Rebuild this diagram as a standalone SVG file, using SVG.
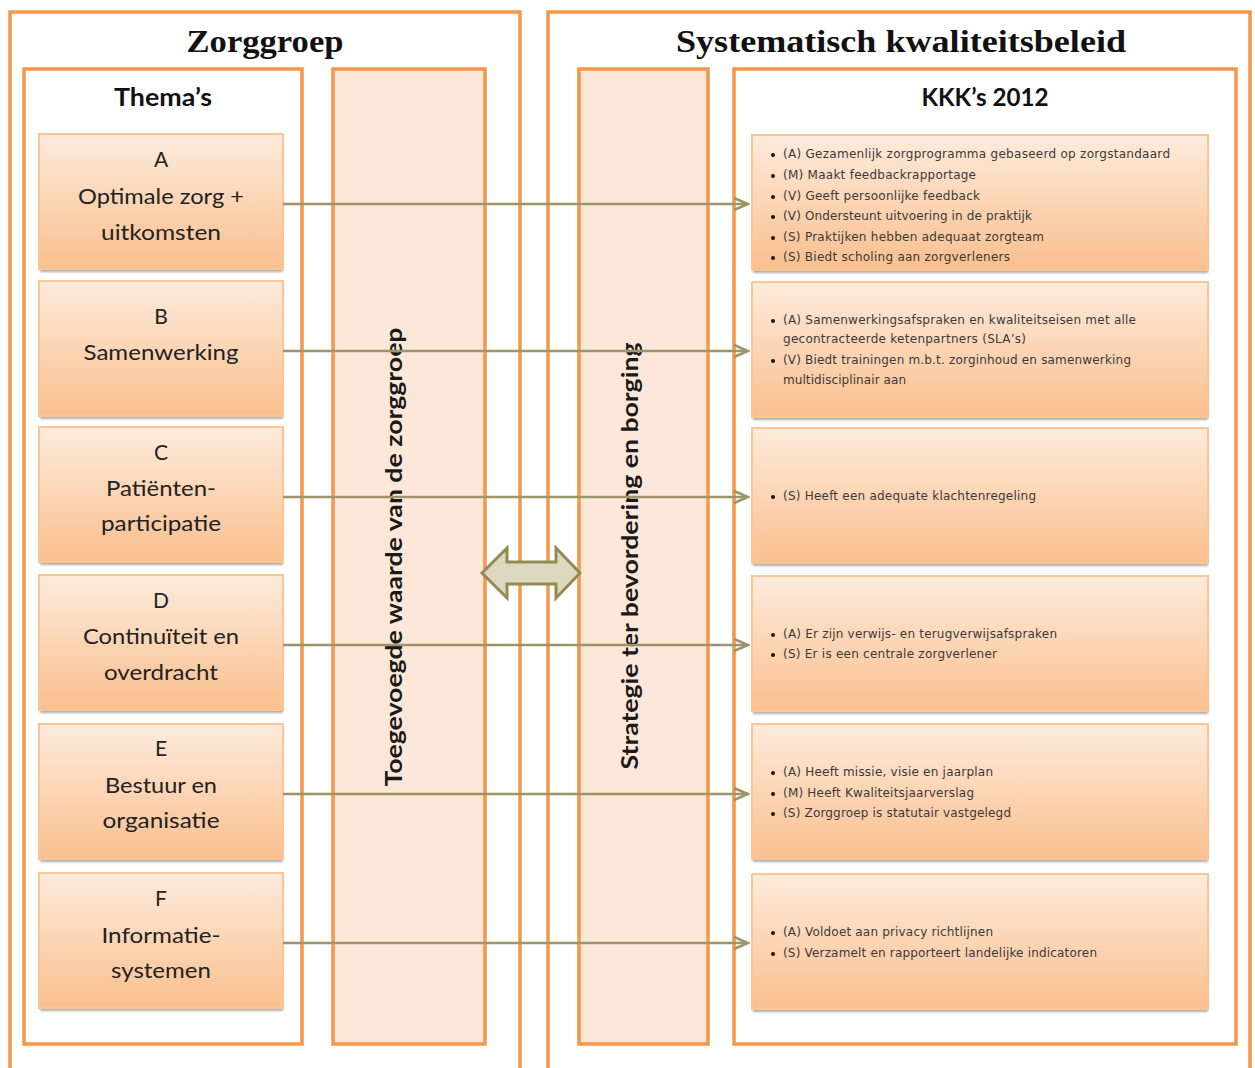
<svg xmlns="http://www.w3.org/2000/svg" width="1255" height="1068" viewBox="0 0 1255 1068">
<defs>
<linearGradient id="gTheme" x1="0" y1="0" x2="0" y2="1">
<stop offset="0" stop-color="#FDEBDC"/>
<stop offset="1" stop-color="#FABF8E"/>
</linearGradient>
<marker id="chev" markerUnits="userSpaceOnUse" markerWidth="18" markerHeight="16" viewBox="0 0 18 16" refX="16" refY="8" orient="auto">
<path d="M2,2 L16,8 L2,14" fill="none" stroke="#9B9569" stroke-width="2.5"/>
</marker>
<filter id="soft" x="-5%" y="-5%" width="110%" height="115%">
<feGaussianBlur stdDeviation="1"/>
</filter>
</defs>
<style>
.frame{fill:none;stroke:#F79646;stroke-width:3.5}
.col{fill:#FCE7D9;stroke:#F79646;stroke-width:3.5}
.panel{fill:#FFFFFF;stroke:#F79646;stroke-width:3.5}
.box{fill:url(#gTheme);stroke:#FBC596;stroke-width:2}
.shadow{fill:#8C8C8C;opacity:0.7;filter:url(#soft)}
.title{font-family:"Liberation Serif","DejaVu Serif",serif;font-weight:bold;font-size:31px;fill:#111111;text-anchor:middle}
.sub{font-family:Lato,"Open Sans",sans-serif;font-weight:bold;font-size:25px;fill:#111111;text-anchor:middle}
.th{font-family:Lato,"Open Sans",sans-serif;font-size:21px;fill:#222222;text-anchor:middle}
.vert{font-family:Lato,"Open Sans",sans-serif;font-weight:bold;font-size:22px;fill:#1a1a1a;text-anchor:middle}
.kk{font-family:"DejaVu Sans","Liberation Sans",sans-serif;font-size:12px;fill:#3a3a3a}
.dot{fill:#111111}
.conn{stroke:#9B9569;stroke-width:2.5;fill:none}
</style>

<g id="zorggroep-frame">
<path class="frame" d="M10,1075 L10,12 L520,12 L520,1075"/>
<text class="title" x="265" y="52" textLength="157" lengthAdjust="spacingAndGlyphs">Zorggroep</text>
</g>
<g id="systematisch-frame">
<path class="frame" d="M548,1075 L548,12 L1250,12 L1250,1075"/>
<text class="title" x="901" y="52" textLength="450" lengthAdjust="spacingAndGlyphs">Systematisch kwaliteitsbeleid</text>
</g>

<g id="themas-panel">
<rect class="panel" x="24" y="69" width="278" height="975"/>
<text class="sub" x="163" y="106" textLength="98" lengthAdjust="spacingAndGlyphs">Thema’s</text>
</g>
<g id="toegevoegde-waarde">
<rect class="col" x="333" y="69" width="152" height="975"/>
<text class="vert" transform="translate(402,557) rotate(-90)" textLength="459" lengthAdjust="spacingAndGlyphs">Toegevoegde waarde van de zorggroep</text>
</g>
<g id="strategie">
<rect class="col" x="579" y="69" width="129" height="975"/>
<text class="vert" transform="translate(638,556) rotate(-90)" textLength="427" lengthAdjust="spacingAndGlyphs">Strategie ter bevordering en borging</text>
</g>
<g id="kkk-panel">
<rect class="panel" x="734" y="69" width="502" height="975"/>
<text class="sub" x="985" y="106" textLength="127" lengthAdjust="spacingAndGlyphs">KKK’s 2012</text>
</g>

<g id="theme-A">
<rect class="shadow" x="40" y="137" width="243" height="135"/>
<rect class="box" x="39" y="134" width="244" height="135"/>
<text class="th" x="161" y="167">A</text>
<text class="th" x="161" y="204" textLength="166" lengthAdjust="spacingAndGlyphs">Optimale zorg +</text>
<text class="th" x="161" y="240" textLength="120" lengthAdjust="spacingAndGlyphs">uitkomsten</text>
</g>
<g id="theme-B">
<rect class="shadow" x="40" y="284" width="243" height="135"/>
<rect class="box" x="39" y="281" width="244" height="135"/>
<text class="th" x="161" y="324">B</text>
<text class="th" x="161" y="360" textLength="155" lengthAdjust="spacingAndGlyphs">Samenwerking</text>
</g>
<g id="theme-C">
<rect class="shadow" x="40" y="430" width="243" height="135"/>
<rect class="box" x="39" y="427" width="244" height="135"/>
<text class="th" x="161" y="460">C</text>
<text class="th" x="161" y="496" textLength="110" lengthAdjust="spacingAndGlyphs">Patiënten-</text>
<text class="th" x="161" y="531" textLength="120" lengthAdjust="spacingAndGlyphs">participatie</text>
</g>
<g id="theme-D">
<rect class="shadow" x="40" y="578" width="243" height="135"/>
<rect class="box" x="39" y="575" width="244" height="135"/>
<text class="th" x="161" y="608">D</text>
<text class="th" x="161" y="644" textLength="156" lengthAdjust="spacingAndGlyphs">Continuïteit en</text>
<text class="th" x="161" y="680" textLength="114" lengthAdjust="spacingAndGlyphs">overdracht</text>
</g>
<g id="theme-E">
<rect class="shadow" x="40" y="727" width="243" height="135"/>
<rect class="box" x="39" y="724" width="244" height="135"/>
<text class="th" x="161" y="756">E</text>
<text class="th" x="161" y="793" textLength="112" lengthAdjust="spacingAndGlyphs">Bestuur en</text>
<text class="th" x="161" y="828" textLength="117" lengthAdjust="spacingAndGlyphs">organisatie</text>
</g>
<g id="theme-F">
<rect class="shadow" x="40" y="876" width="243" height="135"/>
<rect class="box" x="39" y="873" width="244" height="135"/>
<text class="th" x="161" y="906">F</text>
<text class="th" x="161" y="943" textLength="119" lengthAdjust="spacingAndGlyphs">Informatie-</text>
<text class="th" x="161" y="978" textLength="100" lengthAdjust="spacingAndGlyphs">systemen</text>
</g>

<g id="kkk-A">
<rect class="shadow" x="753" y="138" width="455" height="135"/>
<rect class="box" x="752" y="135" width="456" height="135"/>
<circle class="dot" cx="773" cy="155" r="2"/><text class="kk" x="783" y="158" textLength="387">(A) Gezamenlijk zorgprogramma gebaseerd op zorgstandaard</text>
<circle class="dot" cx="773" cy="176" r="2"/><text class="kk" x="783" y="179" textLength="193">(M) Maakt feedbackrapportage</text>
<circle class="dot" cx="773" cy="197" r="2"/><text class="kk" x="783" y="200" textLength="197">(V) Geeft persoonlijke feedback</text>
<circle class="dot" cx="773" cy="217" r="2"/><text class="kk" x="783" y="220" textLength="249">(V) Ondersteunt uitvoering in de praktijk</text>
<circle class="dot" cx="773" cy="238" r="2"/><text class="kk" x="783" y="241" textLength="261">(S) Praktijken hebben adequaat zorgteam</text>
<circle class="dot" cx="773" cy="258" r="2"/><text class="kk" x="783" y="261" textLength="227">(S) Biedt scholing aan zorgverleners</text>
</g>
<g id="kkk-B">
<rect class="shadow" x="753" y="285" width="455" height="135"/>
<rect class="box" x="752" y="282" width="456" height="135"/>
<circle class="dot" cx="773" cy="321" r="2"/><text class="kk" x="783" y="324" textLength="353">(A) Samenwerkingsafspraken en kwaliteitseisen met alle</text>
<text class="kk" x="783" y="343" textLength="243">gecontracteerde ketenpartners (SLA’s)</text>
<circle class="dot" cx="773" cy="361" r="2"/><text class="kk" x="783" y="364" textLength="348">(V) Biedt trainingen m.b.t. zorginhoud en samenwerking</text>
<text class="kk" x="783" y="384" textLength="123">multidisciplinair aan</text>
</g>
<g id="kkk-C">
<rect class="shadow" x="753" y="431" width="455" height="135"/>
<rect class="box" x="752" y="428" width="456" height="135"/>
<circle class="dot" cx="773" cy="497" r="2"/><text class="kk" x="783" y="500" textLength="253">(S) Heeft een adequate klachtenregeling</text>
</g>
<g id="kkk-D">
<rect class="shadow" x="753" y="579" width="455" height="135"/>
<rect class="box" x="752" y="576" width="456" height="135"/>
<circle class="dot" cx="773" cy="635" r="2"/><text class="kk" x="783" y="638" textLength="274">(A) Er zijn verwijs- en terugverwijsafspraken</text>
<circle class="dot" cx="773" cy="655" r="2"/><text class="kk" x="783" y="658" textLength="214">(S) Er is een centrale zorgverlener</text>
</g>
<g id="kkk-E">
<rect class="shadow" x="753" y="727" width="455" height="135"/>
<rect class="box" x="752" y="724" width="456" height="135"/>
<circle class="dot" cx="773" cy="773" r="2"/><text class="kk" x="783" y="776" textLength="210">(A) Heeft missie, visie en jaarplan</text>
<circle class="dot" cx="773" cy="794" r="2"/><text class="kk" x="783" y="797" textLength="191">(M) Heeft Kwaliteitsjaarverslag</text>
<circle class="dot" cx="773" cy="814" r="2"/><text class="kk" x="783" y="817" textLength="228">(S) Zorggroep is statutair vastgelegd</text>
</g>
<g id="kkk-F">
<rect class="shadow" x="753" y="877" width="455" height="135"/>
<rect class="box" x="752" y="874" width="456" height="135"/>
<circle class="dot" cx="773" cy="933" r="2"/><text class="kk" x="783" y="936" textLength="210">(A) Voldoet aan privacy richtlijnen</text>
<circle class="dot" cx="773" cy="954" r="2"/><text class="kk" x="783" y="957" textLength="314">(S) Verzamelt en rapporteert landelijke indicatoren</text>
</g>

<g id="connectors">
<line class="conn" x1="283" y1="204" x2="748" y2="204" marker-end="url(#chev)"/>
<line class="conn" x1="283" y1="351" x2="748" y2="351" marker-end="url(#chev)"/>
<line class="conn" x1="283" y1="497" x2="748" y2="497" marker-end="url(#chev)"/>
<line class="conn" x1="283" y1="645" x2="748" y2="645" marker-end="url(#chev)"/>
<line class="conn" x1="283" y1="794" x2="748" y2="794" marker-end="url(#chev)"/>
<line class="conn" x1="283" y1="943" x2="748" y2="943" marker-end="url(#chev)"/>
<path id="double-arrow" d="M482,573 L507,548 L507,562 L556,562 L556,548 L580,573 L556,598 L556,584 L507,584 L507,598 Z" fill="#DCD9C0" stroke="#948A54" stroke-width="3" stroke-linejoin="miter"/>
</g>
</svg>
